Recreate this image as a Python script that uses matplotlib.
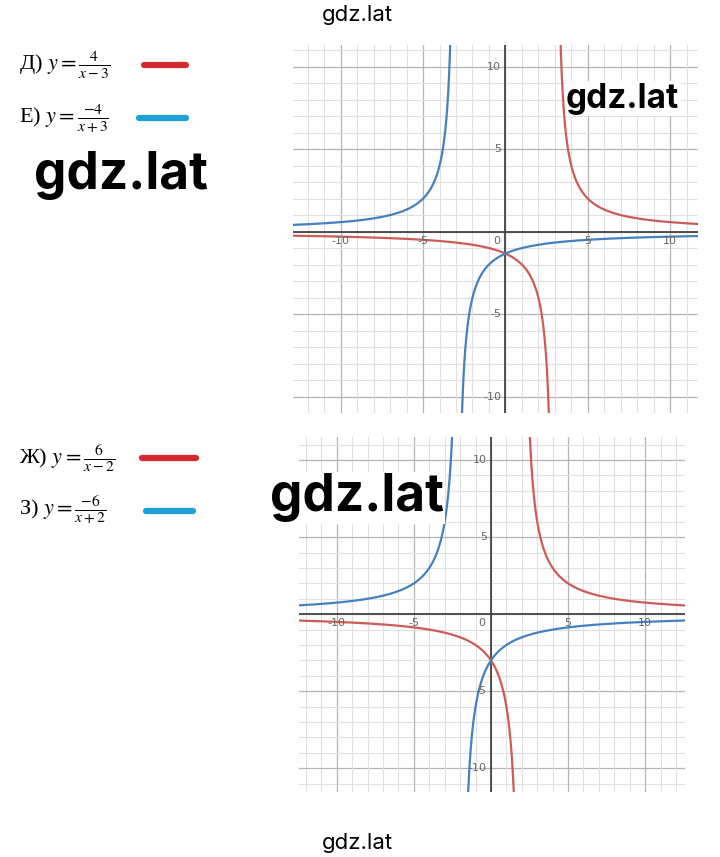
import numpy as np
import matplotlib
matplotlib.use("Agg")
import matplotlib.pyplot as plt
from matplotlib.lines import Line2D

# --- data: y = k / (x - a) ---
top_k = [4, -4]
top_a = [3, -3]
top_names = [r"Д) $y = \frac{4}{x-3}$", r"Е) $y = \frac{-4}{x+3}$"]
bot_k = [6, -6]
bot_a = [2, -2]
bot_names = [r"Ж) $y = \frac{6}{x-2}$", r"З) $y = \frac{-6}{x+2}$"]
tick_vals = [-10, -5, 5, 10]
tick_text = ["-10", "-5", "5", "10"]

curve_colors = ["#cc5c58", "#4581bf"]
swatch_colors = ["#d42a2f", "#1fa0d8"]

plt.rcParams["mathtext.fontset"] = "stix"

fig = plt.figure(figsize=(7.2, 8.57), dpi=100)


def draw_panel(rect, k_list, a_list, xlim, ylim):
    ax = fig.add_axes(rect)
    ax.set_xlim(*xlim)
    ax.set_ylim(*ylim)
    # grid: 1-unit minor, 5-unit major
    for v in range(-15, 16):
        c, lw = ("#b5b5b5", 0.9) if v % 5 == 0 else ("#e0e0e0", 0.8)
        ax.axvline(v, color=c, lw=lw, zorder=0)
        ax.axhline(v, color=c, lw=lw, zorder=0)
    ax.axhline(0, color="#444444", lw=1.3, zorder=1)
    ax.axvline(0, color="#444444", lw=1.3, zorder=1)
    for s in ax.spines.values():
        s.set_visible(False)
    ax.set_xticks([])
    ax.set_yticks([])
    for v, t in zip(tick_vals, tick_text):
        ax.annotate(t, (v, 0), xytext=(0, -3), textcoords="offset points",
                    ha="center", va="top", fontsize=8, color="#666666")
        ax.annotate(t, (0, v), xytext=(-3, 0), textcoords="offset points",
                    ha="right", va="center", fontsize=8, color="#666666")
    ax.annotate("0", (0, 0), xytext=(-4, -3), textcoords="offset points",
                ha="right", va="top", fontsize=8, color="#666666")
    for k, a, c in zip(k_list, a_list, curve_colors):
        for xs in (np.linspace(xlim[0], a - 1e-3, 800), np.linspace(a + 1e-3, xlim[1], 800)):
            ax.plot(xs, k / (xs - a), color=c, lw=1.6, zorder=2)
    return ax


ax1 = draw_panel([0.407, 0.518, 0.5625, 0.4294], top_k, top_a, (-12.9, 11.7), (-11.0, 11.3))
ax2 = draw_panel([0.4153, 0.0758, 0.536, 0.414], bot_k, bot_a, (-12.45, 12.58), (-11.54, 11.48))

# formula labels with hand-drawn colour swatches
label_rows = [(top_names, [0.924, 0.862]), (bot_names, [0.466, 0.404])]
swatch_x = [(0.200, 0.258), (0.193, 0.258), (0.197, 0.272), (0.203, 0.268)]
i = 0
for names, ys in label_rows:
    for name, y, c in zip(names, ys, swatch_colors):
        fig.text(0.027, y, name, fontsize=16, family="Liberation Serif", va="center", ha="left")
        x0, x1 = swatch_x[i]
        fig.add_artist(Line2D([x0, x1], [y, y], transform=fig.transFigure,
                              color=c, lw=4.5, solid_capstyle="round"))
        i += 1

# watermarks
wm = "Inter"
fig.text(0.497, 0.983, "gdz.lat", fontsize=16, ha="center", va="center", family=wm)
fig.text(0.497, 0.016, "gdz.lat", fontsize=16, ha="center", va="center", family=wm)
fig.text(0.047, 0.795, "gdz.lat", fontsize=37, fontweight="bold", ha="left", va="center", family=wm)
fig.text(0.375, 0.419, "gdz.lat", fontsize=37, fontweight="bold", ha="left", va="center", family=wm,
         bbox=dict(facecolor="white", edgecolor="none", pad=1))
fig.text(0.786, 0.885, "gdz.lat", fontsize=24, fontweight="bold", ha="left", va="center", family=wm,
         bbox=dict(facecolor="white", edgecolor="none", pad=1))

fig.savefig("out.png", dpi=100, facecolor="white")
